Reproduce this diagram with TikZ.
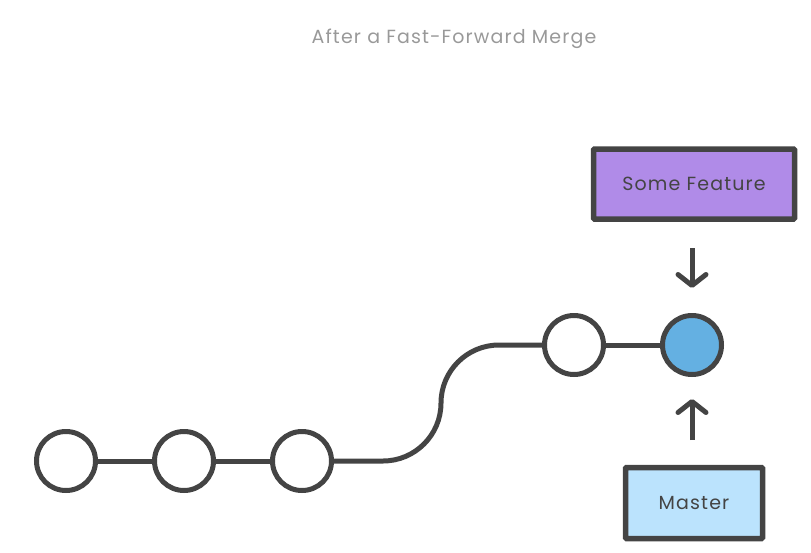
\documentclass[tikz,border=0pt]{standalone}
\usepackage{fontspec}
\setmainfont{Poppins}
\newfontfamily\spacedfont{Poppins}[LetterSpace=6]
\usetikzlibrary{arrows.meta}
\definecolor{ink}{HTML}{444444}
\definecolor{titlegrey}{HTML}{999999}
\definecolor{featfill}{HTML}{B08BE8}
\definecolor{mastfill}{HTML}{BBE3FD}
\definecolor{headfill}{HTML}{64B0E2}
\begin{document}
\begin{tikzpicture}[x=1pt,y=-1pt,
  commit/.style={circle,draw=ink,line width=5pt,fill=white,minimum size=59pt,inner sep=0pt},
  headcommit/.style={commit,fill=headfill},
  branchbox/.style={draw=ink,line width=5.5pt,rounded corners=1pt,inner sep=0pt,font=\spacedfont\fontsize{19}{22}\selectfont,text=ink},
  link/.style={draw=ink,line width=5pt},
  pointer/.style={draw=ink,line width=5pt,-{Straight Barb[length=11pt,width=28pt,line width=5pt,round]}}]
\useasboundingbox (0,0) rectangle (811,552);
\node[font=\spacedfont\fontsize{19}{22}\selectfont,text=titlegrey] (title) at (454,39) {After a Fast-Forward Merge};
\node[commit] (c1) at (66,461) {};
\node[commit] (c2) at (184,461) {};
\node[commit] (c3) at (302,461) {};
\node[commit] (c4) at (574,345) {};
\node[headcommit] (c5) at (692,345) {};
\node[branchbox,fill=featfill,minimum width=201pt,minimum height=70pt] (feat) at (694,184) {Some Feature};
\node[branchbox,fill=mastfill,minimum width=137pt,minimum height=71pt] (mast) at (694,503) {Master};
\coordinate (a1) at (383,461);
\coordinate (a2) at (441,403);
\coordinate (a3) at (499,345);
\draw[link] (c1) -- (c2);
\draw[link] (c2) -- (c3);
\draw[link] (c3) -- (a1) .. controls (415,461) and (441,435) .. (a2) .. controls (441,371) and (467,345) .. (a3) -- (c4);
\draw[link] (c4) -- (c5);
\coordinate (d1) at (692,248);
\coordinate (d2) at (692,288);
\coordinate (u1) at (692,440);
\coordinate (u2) at (692,399);
\draw[pointer] (d1) -- (d2);
\draw[pointer] (u1) -- (u2);
\end{tikzpicture}
\end{document}
